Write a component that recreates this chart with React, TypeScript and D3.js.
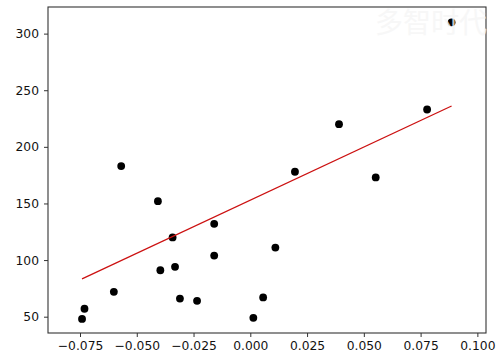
import * as React from 'react';
import * as d3 from 'd3';

// test split of the diabetes BMI feature and the target
const bmi = [
  0.07786339, -0.03961813, 0.01103904, -0.04069594, -0.03422907, 0.00564998,
  0.08864151, -0.03315126, -0.05686312, -0.03099563, 0.05522933, -0.06009656,
  0.00133873, -0.02345095, -0.07410811, 0.01966154, -0.01590626, -0.01590626,
  0.03906215, -0.0730303,
];
const progression = [
  233, 91, 111, 152, 120, 67, 310, 94, 183, 66, 173, 72, 49, 64, 48, 178, 104,
  132, 220, 57,
];
const coef = 938.24;
const intercept = 152.92;

const xTicks = [-0.075, -0.05, -0.025, 0, 0.025, 0.05, 0.075, 0.1];
const yTicks = [50, 100, 150, 200, 250, 300];

const dimensions = { width: 500, height: 359 };
const margin = { top: 7, left: 48, right: 14, bottom: 26 };

const App: React.FC = () => {
  const x = d3.scaleLinear(
    [-0.0891, 0.1038],
    [margin.left, dimensions.width - margin.right]
  );
  const y = d3.scaleLinear(
    [35.6, 323.5],
    [dimensions.height - margin.bottom, margin.top]
  );

  const xAxisRef = React.useRef<SVGGElement>(null);
  const yAxisRef = React.useRef<SVGGElement>(null);

  React.useEffect(() => {
    const style = (g: d3.Selection<SVGGElement, unknown, null, undefined>) => {
      g.select('.domain').remove();
      g.selectAll('.tick line').attr('stroke', '#333').attr('stroke-width', 1);
      g.selectAll('.tick text')
        .attr('fill', '#111')
        .attr('font-family', '"DejaVu Sans", sans-serif')
        .attr('font-size', 12.3);
    };
    d3.select(xAxisRef.current!)
      .call(
        d3
          .axisBottom(x)
          .tickValues(xTicks)
          .tickSize(4)
          .tickPadding(4)
          .tickFormat((d) => d3.format('.3f')(d as number).replace('-', '\u2212'))
      )
      .call(style);
    d3.select(yAxisRef.current!)
      .call(
        d3.axisLeft(y).tickValues(yTicks).tickSize(4).tickPadding(5)
      )
      .call(style);
  }, []);

  const xs = d3.extent(bmi) as [number, number];
  const line = d3
    .line<number>()
    .x((d) => x(d))
    .y((d) => y(coef * d + intercept));

  const plotW = dimensions.width - margin.left - margin.right;
  const plotH = dimensions.height - margin.top - margin.bottom;

  return (
    <svg
      width={dimensions.width}
      height={dimensions.height}
      viewBox={`0 0 ${dimensions.width} ${dimensions.height}`}
      style={{ position: 'absolute', left: 0, top: 0, background: '#fff' }}
    >
      <g ref={xAxisRef} transform={`translate(0, ${dimensions.height - margin.bottom})`} />
      <g ref={yAxisRef} transform={`translate(${margin.left}, 0)`} />
      <g>
        {bmi.map((b, i) => (
          <circle key={i} cx={x(b)} cy={y(progression[i])} r={3.9} fill="#000" />
        ))}
      </g>
      <path d={line(xs) ?? ''} fill="none" stroke="#cc1111" strokeWidth={1.3} />
      <rect
        x={margin.left}
        y={margin.top}
        width={plotW}
        height={plotH}
        fill="none"
        stroke="#333"
        strokeWidth={1.1}
      />
      <text
        x={487}
        y={33}
        textAnchor="end"
        fontFamily='"Noto Sans CJK SC", sans-serif'
        fontSize={28}
        fill="#f6f6f6"
        opacity={0.8}
      >
        多智时代
      </text>
    </svg>
  );
};

export default App;
